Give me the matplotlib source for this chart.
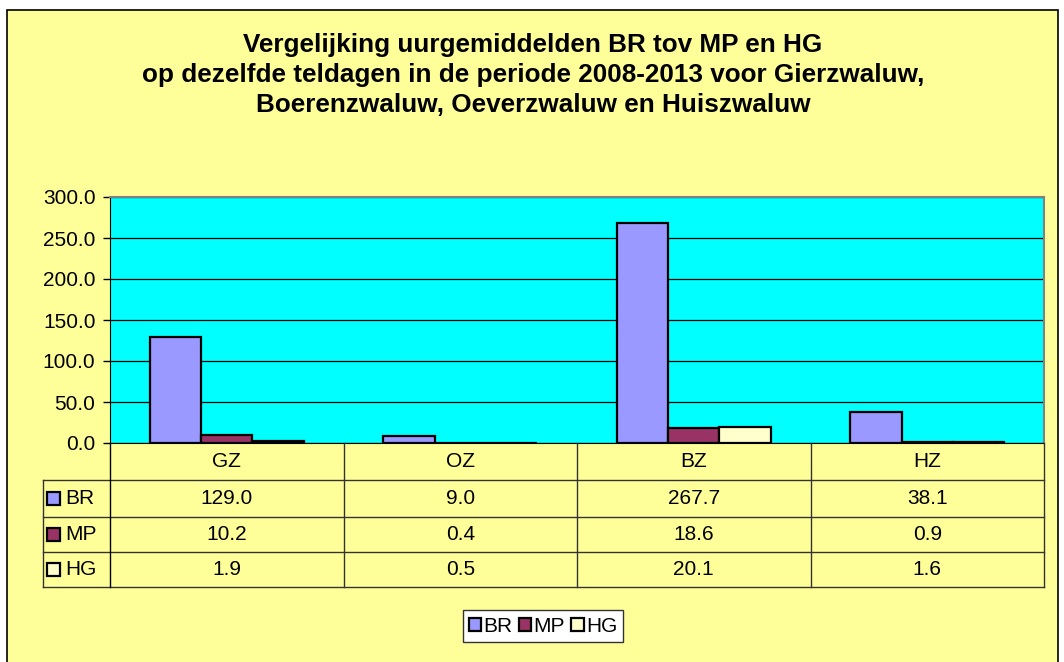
import matplotlib
matplotlib.use("Agg")
import matplotlib.pyplot as plt
from matplotlib.patches import Rectangle

# ── Data ──────────────────────────────────────────────────────────────────────

CATEGORIES = ["GZ", "OZ", "BZ", "HZ"]
SERIES     = ["BR", "MP", "HG"]
BR_VALUES  = [129.0, 9.0, 267.7, 38.1]
MP_VALUES  = [10.2, 0.4, 18.6, 0.9]
HG_VALUES  = [1.9, 0.5, 20.1, 1.6]
Y_TICKS    = [0, 50, 100, 150, 200, 250, 300]
TITLE = ("Vergelijking uurgemiddelden BR tov MP en HG\n"
         "op dezelfde teldagen in de periode 2008-2013 voor Gierzwaluw,\n"
         "Boerenzwaluw, Oeverzwaluw en Huiszwaluw")

COLORS = ["#9999FF", "#993366", "#FFFFCC"]
BG     = "#FFFF99"
PLOT_BG = "#00FFFF"
FS = 15

plt.rcParams["font.family"] = ["Liberation Sans", "DejaVu Sans"]

W, H = 1064, 662
fig = plt.figure(figsize=(W / 100, H / 100), dpi=100)
fig.patch.set_facecolor("white")


def px(x0, y0, x1, y1):
    """pixel box (top-left origin) -> figure fraction rect"""
    return [x0 / W, 1 - y1 / H, (x1 - x0) / W, (y1 - y0) / H]


# outer chart frame
fig.patches.append(Rectangle((7 / W, -0.01), (1058 - 7) / W, 1 - 10 / H + 0.01,
                             transform=fig.transFigure, facecolor=BG,
                             edgecolor="black", linewidth=1.2, zorder=-10))

fig.text(533 / W, 1 - 75 / H, TITLE, ha="center", va="center",
         fontsize=18.8, fontweight="bold", linespacing=1.3)

# ── Bar chart ─────────────────────────────────────────────────────────────────
PL, PT, PR, PB = 110, 197, 1044, 443
ax = fig.add_axes(px(PL, PT, PR, PB))
ax.set_facecolor(PLOT_BG)
ax.set_xlim(0, len(CATEGORIES))
ax.set_ylim(0, 300)
ax.set_yticks(Y_TICKS)
ax.set_yticklabels([f"{v:.1f}" for v in Y_TICKS], fontsize=FS)
ax.set_xticks([])
ax.tick_params(axis="y", direction="out", length=5, width=1, pad=5.5)
ax.yaxis.grid(True, color="black", linewidth=0.9)
ax.set_axisbelow(True)
for side in ["top", "right"]:
    ax.spines[side].set_color("#808080")
    ax.spines[side].set_linewidth(1.5)
ax.spines["left"].set_color("black")
ax.spines["bottom"].set_color("black")

bw = 0.22
for i, vals in enumerate([BR_VALUES, MP_VALUES, HG_VALUES]):
    xs = [k + 0.5 + (i - 1) * bw for k in range(len(CATEGORIES))]
    ax.bar(xs, vals, width=bw, color=COLORS[i], edgecolor="black",
           linewidth=1.6, zorder=3)

# ── Data table ────────────────────────────────────────────────────────────────
TL = 43
rows_y = [443, 480, 517, 552, 587]
tax = fig.add_axes(px(TL, 443, PR, 587))
tax.set_xlim(TL, PR)
tax.set_ylim(587, 443)
tax.axis("off")
col_w = (PR - PL) / len(CATEGORIES)
cols_x = [PL + k * col_w for k in range(len(CATEGORIES) + 1)]
line_c = "#333333"

# horizontal lines
for y in rows_y[1:]:
    tax.plot([TL, PR], [y, y], color=line_c, lw=1, clip_on=False)
# vertical lines
tax.plot([PL, PL], [443, 587], color="black", lw=1, clip_on=False)
tax.plot([TL, TL], [480, 587], color=line_c, lw=1, clip_on=False)
for x in cols_x[1:]:
    tax.plot([x, x], [443, 587], color=line_c, lw=1, clip_on=False)

for k, cat in enumerate(CATEGORIES):
    tax.text(cols_x[k] + col_w / 2, (rows_y[0] + rows_y[1]) / 2, cat,
             ha="center", va="center", fontsize=FS)

for i, (name, vals) in enumerate(zip(SERIES, [BR_VALUES, MP_VALUES, HG_VALUES])):
    yc = (rows_y[i + 1] + rows_y[i + 2]) / 2
    tax.add_patch(Rectangle((47, yc - 6.5), 13, 13, facecolor=COLORS[i],
                            edgecolor="black", lw=1.6, clip_on=False))
    tax.text(65, yc, name, ha="left", va="center", fontsize=FS)
    for k, v in enumerate(vals):
        tax.text(cols_x[k] + col_w / 2, yc, f"{v:.1f}", ha="center",
                 va="center", fontsize=FS)

# ── Legend ────────────────────────────────────────────────────────────────────
handles = [Rectangle((0, 0), 1, 1, facecolor=c, edgecolor="black", lw=1.6)
           for c in COLORS]
leg = fig.legend(handles, SERIES, loc="center", bbox_to_anchor=(543 / W, 1 - 626 / H),
                 ncol=3, fontsize=FS, frameon=True, fancybox=False,
                 handlelength=0.6, handleheight=0.6, handletextpad=0.1,
                 columnspacing=0.3, borderpad=0.3, borderaxespad=0)
leg.get_frame().set_facecolor("white")
leg.get_frame().set_edgecolor("#333333")
leg.get_frame().set_linewidth(1)
leg.get_frame().set_alpha(1)

fig.savefig("out.png", dpi=100, facecolor=fig.get_facecolor())
